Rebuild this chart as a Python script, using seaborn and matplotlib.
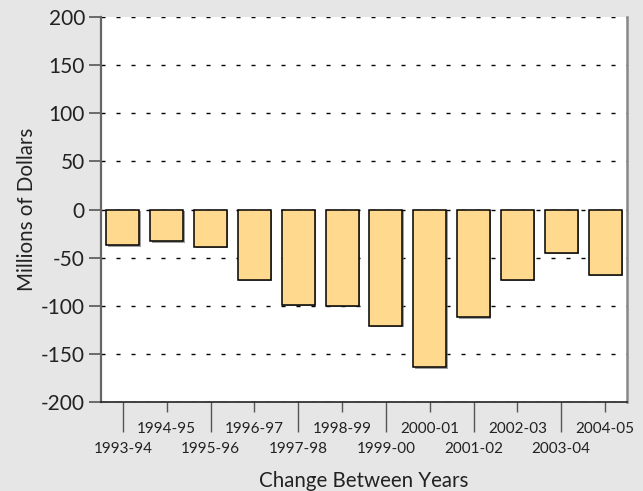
import matplotlib
matplotlib.use('Agg')
import matplotlib.pyplot as plt
import matplotlib.patheffects as pe
import pandas as pd
import seaborn as sns

years = ['1993-94', '1994-95', '1995-96', '1996-97', '1997-98', '1998-99',
         '1999-00', '2000-01', '2001-02', '2002-03', '2003-04', '2004-05']
change = [-37, -33, -39, -73, -99, -100, -121, -164, -112, -73, -45, -68]
y_ticks = [-200, -150, -100, -50, 0, 50, 100, 150, 200]

bg = '#e6e6e6'
bar_color = '#ffd98e'

sns.set_theme(style='white')
plt.rcParams['font.family'] = ['Lato', 'DejaVu Sans']

df = pd.DataFrame({'year': years, 'change': change})

fig = plt.figure(figsize=(6.43, 4.91), dpi=100, facecolor=bg)
ax = fig.add_axes([101 / 643, 89 / 491, 526 / 643, 385 / 491])
ax.set_facecolor('white')

sns.barplot(data=df, x='year', y='change', color=bar_color, saturation=1,
            edgecolor='black', linewidth=1.1, width=0.75, ax=ax, zorder=3)

# soft drop shadow like the original
for p in ax.patches:
    p.set_path_effects([pe.SimplePatchShadow(offset=(1, -1), shadow_rgbFace='#777777', alpha=0.7),
                        pe.Normal()])

ax.set_ylim(-200, 200)
ax.set_xlim(-0.5, len(years) - 0.5)
ax.set_yticks(y_ticks)
ax.set_yticklabels([str(v) for v in y_ticks], fontsize=15, color='#222222')
ax.yaxis.grid(True, color='black', linestyle=(0, (2.9, 7.9)), linewidth=1)
ax.xaxis.grid(False)
ax.set_axisbelow(True)

# staggered x labels: even categories on major ticks (long, lower row),
# odd categories on minor ticks (short, upper row)
even = list(range(0, len(years), 2))
odd = list(range(1, len(years), 2))
ax.set_xticks(even)
ax.set_xticklabels([years[i] for i in even], fontsize=11, color='#222222')
ax.set_xticks(odd, minor=True)
ax.set_xticklabels([years[i] for i in odd], minor=True, fontsize=11, color='#222222')
ax.tick_params(axis='x', which='major', direction='out', length=21.5, width=1,
               color='#555555', pad=7, bottom=True)
ax.tick_params(axis='x', which='minor', direction='out', length=7.2, width=1,
               color='#555555', pad=7, bottom=True)
ax.tick_params(axis='y', direction='out', length=8.6, width=1.2, color='#555555',
               pad=3, left=True)

ax.spines['top'].set_visible(False)
ax.spines['left'].set_color('#666666')
ax.spines['left'].set_linewidth(1.6)
ax.spines['right'].set_color('#888888')
ax.spines['right'].set_linewidth(1.8)
ax.spines['bottom'].set_color('#222222')
ax.spines['bottom'].set_linewidth(1.2)

ax.set_xlabel('Change Between Years', fontsize=14.8, color='#222222', labelpad=11)
ax.set_ylabel('Millions of Dollars', fontsize=14.8, color='#222222', labelpad=3)

fig.savefig('out.png', dpi=100, facecolor=bg)
